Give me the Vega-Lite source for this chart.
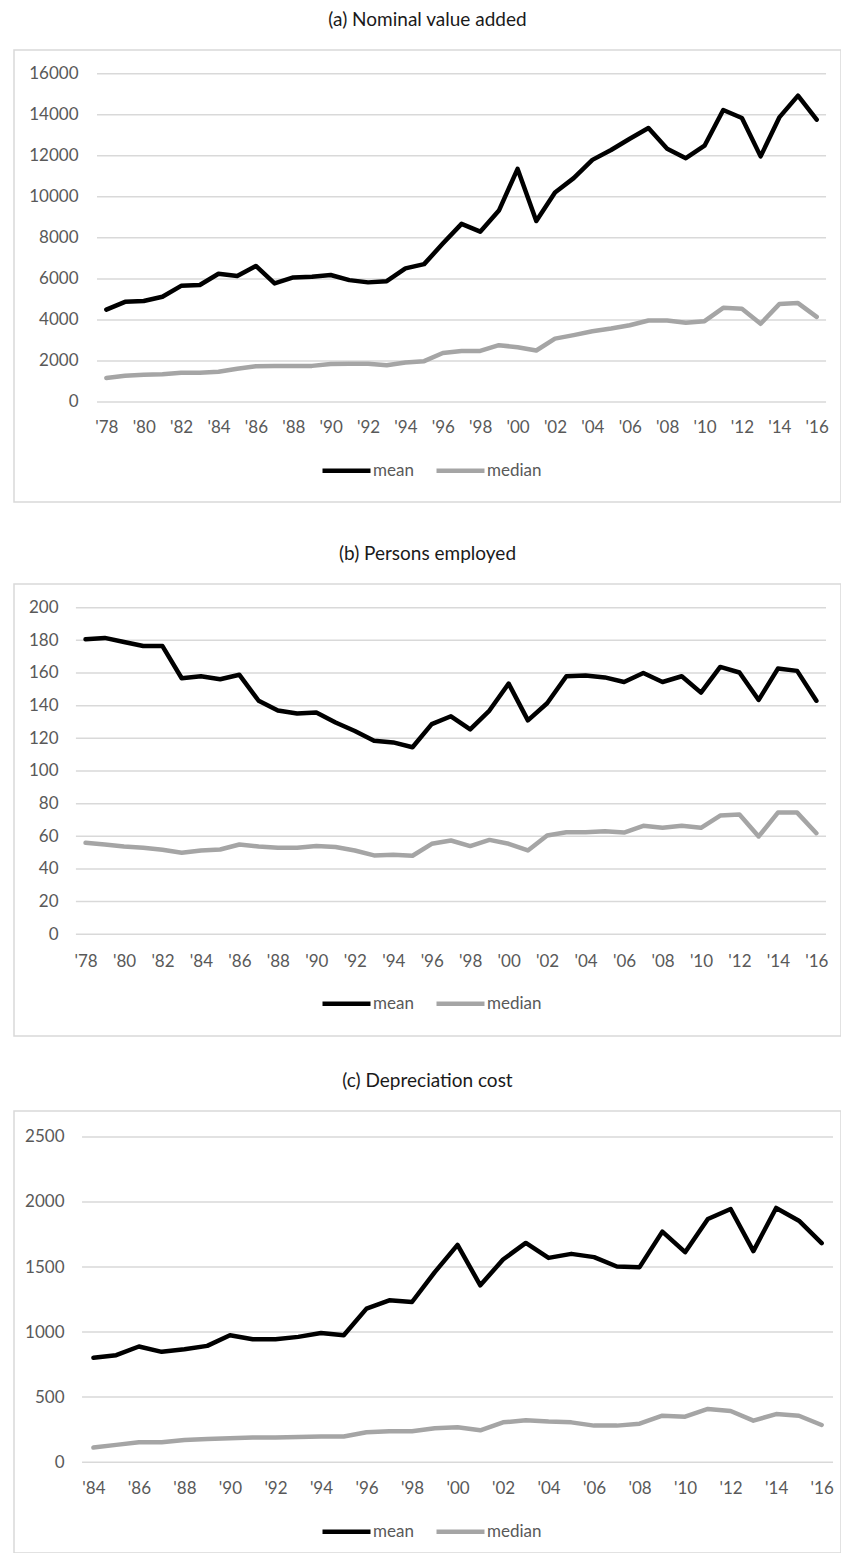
{
  "$schema": "https://vega.github.io/schema/vega-lite/v6.json",
  "padding": {"left": 13, "top": 10, "right": 0, "bottom": 0},
  "background": "white",
  "datasets": {
    "grid_a": [{"v": 0}, {"v": 2000}, {"v": 4000}, {"v": 6000}, {"v": 8000}, {"v": 10000}, {"v": 12000}, {"v": 14000}, {"v": 16000}],
    "grid_b": [{"v": 0}, {"v": 20}, {"v": 40}, {"v": 60}, {"v": 80}, {"v": 100}, {"v": 120}, {"v": 140}, {"v": 160}, {"v": 180}, {"v": 200}],
    "grid_c": [{"v": 0}, {"v": 500}, {"v": 1000}, {"v": 1500}, {"v": 2000}, {"v": 2500}],
    "a": [
      {"year": 1978, "series": "mean", "value": 4500}, {"year": 1978, "series": "median", "value": 1170},
      {"year": 1979, "series": "mean", "value": 4880}, {"year": 1979, "series": "median", "value": 1280},
      {"year": 1980, "series": "mean", "value": 4920}, {"year": 1980, "series": "median", "value": 1330},
      {"year": 1981, "series": "mean", "value": 5130}, {"year": 1981, "series": "median", "value": 1350},
      {"year": 1982, "series": "mean", "value": 5660}, {"year": 1982, "series": "median", "value": 1430},
      {"year": 1983, "series": "mean", "value": 5700}, {"year": 1983, "series": "median", "value": 1430},
      {"year": 1984, "series": "mean", "value": 6250}, {"year": 1984, "series": "median", "value": 1470},
      {"year": 1985, "series": "mean", "value": 6140}, {"year": 1985, "series": "median", "value": 1620},
      {"year": 1986, "series": "mean", "value": 6630}, {"year": 1986, "series": "median", "value": 1740},
      {"year": 1987, "series": "mean", "value": 5780}, {"year": 1987, "series": "median", "value": 1750},
      {"year": 1988, "series": "mean", "value": 6070}, {"year": 1988, "series": "median", "value": 1760},
      {"year": 1989, "series": "mean", "value": 6100}, {"year": 1989, "series": "median", "value": 1760},
      {"year": 1990, "series": "mean", "value": 6190}, {"year": 1990, "series": "median", "value": 1850},
      {"year": 1991, "series": "mean", "value": 5940}, {"year": 1991, "series": "median", "value": 1860},
      {"year": 1992, "series": "mean", "value": 5830}, {"year": 1992, "series": "median", "value": 1860},
      {"year": 1993, "series": "mean", "value": 5890}, {"year": 1993, "series": "median", "value": 1790},
      {"year": 1994, "series": "mean", "value": 6510}, {"year": 1994, "series": "median", "value": 1920},
      {"year": 1995, "series": "mean", "value": 6720}, {"year": 1995, "series": "median", "value": 1990},
      {"year": 1996, "series": "mean", "value": 7720}, {"year": 1996, "series": "median", "value": 2390},
      {"year": 1997, "series": "mean", "value": 8680}, {"year": 1997, "series": "median", "value": 2490},
      {"year": 1998, "series": "mean", "value": 8300}, {"year": 1998, "series": "median", "value": 2490},
      {"year": 1999, "series": "mean", "value": 9330}, {"year": 1999, "series": "median", "value": 2770},
      {"year": 2000, "series": "mean", "value": 11360}, {"year": 2000, "series": "median", "value": 2670},
      {"year": 2001, "series": "mean", "value": 8820}, {"year": 2001, "series": "median", "value": 2510},
      {"year": 2002, "series": "mean", "value": 10210}, {"year": 2002, "series": "median", "value": 3090},
      {"year": 2003, "series": "mean", "value": 10910}, {"year": 2003, "series": "median", "value": 3260},
      {"year": 2004, "series": "mean", "value": 11800}, {"year": 2004, "series": "median", "value": 3450},
      {"year": 2005, "series": "mean", "value": 12280}, {"year": 2005, "series": "median", "value": 3580},
      {"year": 2006, "series": "mean", "value": 12830}, {"year": 2006, "series": "median", "value": 3740},
      {"year": 2007, "series": "mean", "value": 13350}, {"year": 2007, "series": "median", "value": 3970},
      {"year": 2008, "series": "mean", "value": 12340}, {"year": 2008, "series": "median", "value": 3970},
      {"year": 2009, "series": "mean", "value": 11880}, {"year": 2009, "series": "median", "value": 3860},
      {"year": 2010, "series": "mean", "value": 12490}, {"year": 2010, "series": "median", "value": 3940},
      {"year": 2011, "series": "mean", "value": 14230}, {"year": 2011, "series": "median", "value": 4590},
      {"year": 2012, "series": "mean", "value": 13840}, {"year": 2012, "series": "median", "value": 4540},
      {"year": 2013, "series": "mean", "value": 11970}, {"year": 2013, "series": "median", "value": 3810},
      {"year": 2014, "series": "mean", "value": 13870}, {"year": 2014, "series": "median", "value": 4770},
      {"year": 2015, "series": "mean", "value": 14930}, {"year": 2015, "series": "median", "value": 4820},
      {"year": 2016, "series": "mean", "value": 13760}, {"year": 2016, "series": "median", "value": 4150}
    ],
    "b": [
      {"year": 1978, "series": "mean", "value": 180.6}, {"year": 1978, "series": "median", "value": 56},
      {"year": 1979, "series": "mean", "value": 181.5}, {"year": 1979, "series": "median", "value": 55},
      {"year": 1980, "series": "mean", "value": 179}, {"year": 1980, "series": "median", "value": 53.8},
      {"year": 1981, "series": "mean", "value": 176.5}, {"year": 1981, "series": "median", "value": 53},
      {"year": 1982, "series": "mean", "value": 176.5}, {"year": 1982, "series": "median", "value": 51.7},
      {"year": 1983, "series": "mean", "value": 156.8}, {"year": 1983, "series": "median", "value": 49.9},
      {"year": 1984, "series": "mean", "value": 158}, {"year": 1984, "series": "median", "value": 51.3},
      {"year": 1985, "series": "mean", "value": 156.2}, {"year": 1985, "series": "median", "value": 51.9},
      {"year": 1986, "series": "mean", "value": 158.9}, {"year": 1986, "series": "median", "value": 55},
      {"year": 1987, "series": "mean", "value": 143}, {"year": 1987, "series": "median", "value": 53.8},
      {"year": 1988, "series": "mean", "value": 137}, {"year": 1988, "series": "median", "value": 53},
      {"year": 1989, "series": "mean", "value": 135.2}, {"year": 1989, "series": "median", "value": 53},
      {"year": 1990, "series": "mean", "value": 135.8}, {"year": 1990, "series": "median", "value": 54},
      {"year": 1991, "series": "mean", "value": 129.7}, {"year": 1991, "series": "median", "value": 53.4},
      {"year": 1992, "series": "mean", "value": 124.5}, {"year": 1992, "series": "median", "value": 51.3},
      {"year": 1993, "series": "mean", "value": 118.5}, {"year": 1993, "series": "median", "value": 48.3},
      {"year": 1994, "series": "mean", "value": 117.5}, {"year": 1994, "series": "median", "value": 48.7},
      {"year": 1995, "series": "mean", "value": 114.5}, {"year": 1995, "series": "median", "value": 48.1},
      {"year": 1996, "series": "mean", "value": 128.7}, {"year": 1996, "series": "median", "value": 55.4},
      {"year": 1997, "series": "mean", "value": 133.5}, {"year": 1997, "series": "median", "value": 57.4},
      {"year": 1998, "series": "mean", "value": 125.5}, {"year": 1998, "series": "median", "value": 54},
      {"year": 1999, "series": "mean", "value": 137}, {"year": 1999, "series": "median", "value": 57.8},
      {"year": 2000, "series": "mean", "value": 153.5}, {"year": 2000, "series": "median", "value": 55.4},
      {"year": 2001, "series": "mean", "value": 131}, {"year": 2001, "series": "median", "value": 51.3},
      {"year": 2002, "series": "mean", "value": 141.5}, {"year": 2002, "series": "median", "value": 60.5},
      {"year": 2003, "series": "mean", "value": 158}, {"year": 2003, "series": "median", "value": 62.5},
      {"year": 2004, "series": "mean", "value": 158.5}, {"year": 2004, "series": "median", "value": 62.5},
      {"year": 2005, "series": "mean", "value": 157.3}, {"year": 2005, "series": "median", "value": 63.1},
      {"year": 2006, "series": "mean", "value": 154.5}, {"year": 2006, "series": "median", "value": 62.3},
      {"year": 2007, "series": "mean", "value": 160}, {"year": 2007, "series": "median", "value": 66.4},
      {"year": 2008, "series": "mean", "value": 154.5}, {"year": 2008, "series": "median", "value": 65.2},
      {"year": 2009, "series": "mean", "value": 158}, {"year": 2009, "series": "median", "value": 66.4},
      {"year": 2010, "series": "mean", "value": 148}, {"year": 2010, "series": "median", "value": 65.2},
      {"year": 2011, "series": "mean", "value": 163.7}, {"year": 2011, "series": "median", "value": 72.7},
      {"year": 2012, "series": "mean", "value": 160.3}, {"year": 2012, "series": "median", "value": 73.3},
      {"year": 2013, "series": "mean", "value": 143.5}, {"year": 2013, "series": "median", "value": 59.9},
      {"year": 2014, "series": "mean", "value": 162.7}, {"year": 2014, "series": "median", "value": 74.5},
      {"year": 2015, "series": "mean", "value": 161.3}, {"year": 2015, "series": "median", "value": 74.5},
      {"year": 2016, "series": "mean", "value": 143}, {"year": 2016, "series": "median", "value": 61.9}
    ],
    "c": [
      {"year": 1984, "series": "mean", "value": 802}, {"year": 1984, "series": "median", "value": 112},
      {"year": 1985, "series": "mean", "value": 822}, {"year": 1985, "series": "median", "value": 133},
      {"year": 1986, "series": "mean", "value": 889}, {"year": 1986, "series": "median", "value": 153},
      {"year": 1987, "series": "mean", "value": 848}, {"year": 1987, "series": "median", "value": 153},
      {"year": 1988, "series": "mean", "value": 868}, {"year": 1988, "series": "median", "value": 171},
      {"year": 1989, "series": "mean", "value": 894}, {"year": 1989, "series": "median", "value": 179},
      {"year": 1990, "series": "mean", "value": 975}, {"year": 1990, "series": "median", "value": 184},
      {"year": 1991, "series": "mean", "value": 945}, {"year": 1991, "series": "median", "value": 189},
      {"year": 1992, "series": "mean", "value": 945}, {"year": 1992, "series": "median", "value": 189},
      {"year": 1993, "series": "mean", "value": 963}, {"year": 1993, "series": "median", "value": 194},
      {"year": 1994, "series": "mean", "value": 993}, {"year": 1994, "series": "median", "value": 197},
      {"year": 1995, "series": "mean", "value": 975}, {"year": 1995, "series": "median", "value": 197},
      {"year": 1996, "series": "mean", "value": 1180}, {"year": 1996, "series": "median", "value": 230},
      {"year": 1997, "series": "mean", "value": 1244}, {"year": 1997, "series": "median", "value": 237},
      {"year": 1998, "series": "mean", "value": 1231}, {"year": 1998, "series": "median", "value": 237},
      {"year": 1999, "series": "mean", "value": 1461}, {"year": 1999, "series": "median", "value": 260},
      {"year": 2000, "series": "mean", "value": 1670}, {"year": 2000, "series": "median", "value": 268},
      {"year": 2001, "series": "mean", "value": 1359}, {"year": 2001, "series": "median", "value": 245},
      {"year": 2002, "series": "mean", "value": 1558}, {"year": 2002, "series": "median", "value": 306},
      {"year": 2003, "series": "mean", "value": 1685}, {"year": 2003, "series": "median", "value": 322},
      {"year": 2004, "series": "mean", "value": 1570}, {"year": 2004, "series": "median", "value": 312},
      {"year": 2005, "series": "mean", "value": 1601}, {"year": 2005, "series": "median", "value": 306},
      {"year": 2006, "series": "mean", "value": 1576}, {"year": 2006, "series": "median", "value": 281},
      {"year": 2007, "series": "mean", "value": 1504}, {"year": 2007, "series": "median", "value": 281},
      {"year": 2008, "series": "mean", "value": 1499}, {"year": 2008, "series": "median", "value": 296},
      {"year": 2009, "series": "mean", "value": 1772}, {"year": 2009, "series": "median", "value": 357},
      {"year": 2010, "series": "mean", "value": 1614}, {"year": 2010, "series": "median", "value": 350},
      {"year": 2011, "series": "mean", "value": 1869}, {"year": 2011, "series": "median", "value": 409},
      {"year": 2012, "series": "mean", "value": 1946}, {"year": 2012, "series": "median", "value": 393},
      {"year": 2013, "series": "mean", "value": 1622}, {"year": 2013, "series": "median", "value": 319},
      {"year": 2014, "series": "mean", "value": 1954}, {"year": 2014, "series": "median", "value": 370},
      {"year": 2015, "series": "mean", "value": 1856}, {"year": 2015, "series": "median", "value": 357},
      {"year": 2016, "series": "mean", "value": 1683}, {"year": 2016, "series": "median", "value": 286}
    ]
  },
  "config": {
    "font": "Lato",
    "view": {"stroke": "#D9D9D9", "strokeWidth": 1.5},
    "title": {"fontSize": 19, "fontWeight": "normal", "color": "#1a1a1a", "offset": 20, "anchor": "middle"},
    "axis": {"grid": false, "domain": false, "ticks": false, "tickSize": 0, "labelFontSize": 17, "labelColor": "#595959", "labelPadding": 0, "title": null},
    "axisY": {"labelBaseline": "middle", "labelAlign": "right", "format": "d"},
    "axisX": {"labelBaseline": "middle", "labelAlign": "center", "labelFlush": false, "labelOverlap": false},
    "legend": {"orient": "none", "direction": "horizontal", "title": null, "symbolType": "stroke", "symbolSize": 2304, "symbolStrokeWidth": 4.5, "labelFontSize": 17, "labelColor": "#595959", "labelOffset": 0, "columnPadding": 20, "padding": 0},
    "line": {"strokeWidth": 4.5, "strokeJoin": "round", "strokeCap": "round"}
  },
  "spacing": 41,
  "resolve": {"scale": {"color": "independent", "x": "independent", "y": "independent"}, "legend": {"color": "independent"}},
  "vconcat": [
    {
      "width": 827, "height": 452,
      "title": "(a) Nominal value added",
      "layer": [
        {
          "data": {"name": "grid_a"},
          "mark": {"type": "rule", "color": "#D9D9D9", "strokeWidth": 1.5},
          "encoding": {
            "y": {"field": "v", "type": "quantitative", "title": null, "scale": {"domain": [-4874, 17155], "nice": false, "zero": false}},
            "x": {"datum": 1977.5, "type": "quantitative", "title": null, "scale": {"domain": [1973.06, 2017.3], "nice": false, "zero": false}},
            "x2": {"datum": 2016.5}
          }
        },
        {
          "data": {"name": "a"},
          "mark": {"type": "line"},
          "encoding": {
            "x": {"field": "year", "type": "quantitative", "title": null, "scale": {"domain": [1973.06, 2017.3], "nice": false, "zero": false},
                  "axis": {"values": [1978,1980,1982,1984,1986,1988,1990,1992,1994,1996,1998,2000,2002,2004,2006,2008,2010,2012,2014,2016], "offset": -75, "labelExpr": "\"'\" + (datum.value % 100 < 10 ? '0' : '') + (datum.value % 100)"}},
            "y": {"field": "value", "type": "quantitative", "title": null, "scale": {"domain": [-4874, 17155], "nice": false, "zero": false},
                  "axis": {"values": [0,2000,4000,6000,8000,10000,12000,14000,16000], "offset": -64}},
            "color": {"field": "series", "type": "nominal", "scale": {"domain": ["mean", "median"], "range": ["#000000", "#A5A5A5"]},
                      "legend": {"legendX": 306, "legendY": 394}}
          }
        }
      ]
    },
    {
      "spacing": 34,
      "resolve": {"scale": {"color": "independent", "x": "independent", "y": "independent"}, "legend": {"color": "independent"}},
      "vconcat": [
        {
          "width": 827, "height": 452,
          "title": "(b) Persons employed",
          "layer": [
            {
              "data": {"name": "grid_b"},
              "mark": {"type": "rule", "color": "#D9D9D9", "strokeWidth": 1.5},
              "encoding": {
                "y": {"field": "v", "type": "quantitative", "title": null, "scale": {"domain": [-62.3, 214.5], "nice": false, "zero": false}},
                "x": {"datum": 1977.5, "type": "quantitative", "title": null, "scale": {"domain": [1974.28, 2017.28], "nice": false, "zero": false}},
                "x2": {"datum": 2016.5}
              }
            },
            {
              "data": {"name": "b"},
              "mark": {"type": "line"},
              "encoding": {
                "x": {"field": "year", "type": "quantitative", "title": null, "scale": {"domain": [1974.28, 2017.28], "nice": false, "zero": false},
                      "axis": {"values": [1978,1980,1982,1984,1986,1988,1990,1992,1994,1996,1998,2000,2002,2004,2006,2008,2010,2012,2014,2016], "offset": -75, "labelExpr": "\"'\" + (datum.value % 100 < 10 ? '0' : '') + (datum.value % 100)"}},
                "y": {"field": "value", "type": "quantitative", "title": null, "scale": {"domain": [-62.3, 214.5], "nice": false, "zero": false},
                      "axis": {"values": [0,20,40,60,80,100,120,140,160,180,200], "offset": -44}},
                "color": {"field": "series", "type": "nominal", "scale": {"domain": ["mean", "median"], "range": ["#000000", "#A5A5A5"]},
                          "legend": {"legendX": 306, "legendY": 393}}
              }
            }
          ]
        },
        {
          "width": 827, "height": 442,
          "title": "(c) Depreciation cost",
          "layer": [
            {
              "data": {"name": "grid_c"},
              "mark": {"type": "rule", "color": "#D9D9D9", "strokeWidth": 1.5},
              "encoding": {
                "y": {"field": "v", "type": "quantitative", "title": null, "scale": {"domain": [-698, 2699], "nice": false, "zero": false}},
                "x": {"datum": 1983.5, "type": "quantitative", "title": null, "scale": {"domain": [1980.51, 2016.85], "nice": false, "zero": false}},
                "x2": {"datum": 2016.5}
              }
            },
            {
              "data": {"name": "c"},
              "mark": {"type": "line"},
              "encoding": {
                "x": {"field": "year", "type": "quantitative", "title": null, "scale": {"domain": [1980.51, 2016.85], "nice": false, "zero": false},
                      "axis": {"values": [1984,1986,1988,1990,1992,1994,1996,1998,2000,2002,2004,2006,2008,2010,2012,2014,2016], "offset": -65, "labelExpr": "\"'\" + (datum.value % 100 < 10 ? '0' : '') + (datum.value % 100)"}},
                "y": {"field": "value", "type": "quantitative", "title": null, "scale": {"domain": [-698, 2699], "nice": false, "zero": false},
                      "axis": {"values": [0,500,1000,1500,2000,2500], "offset": -50}},
                "color": {"field": "series", "type": "nominal", "scale": {"domain": ["mean", "median"], "range": ["#000000", "#A5A5A5"]},
                          "legend": {"legendX": 306, "legendY": 394}}
              }
            }
          ]
        }
      ]
    }
  ]
}
